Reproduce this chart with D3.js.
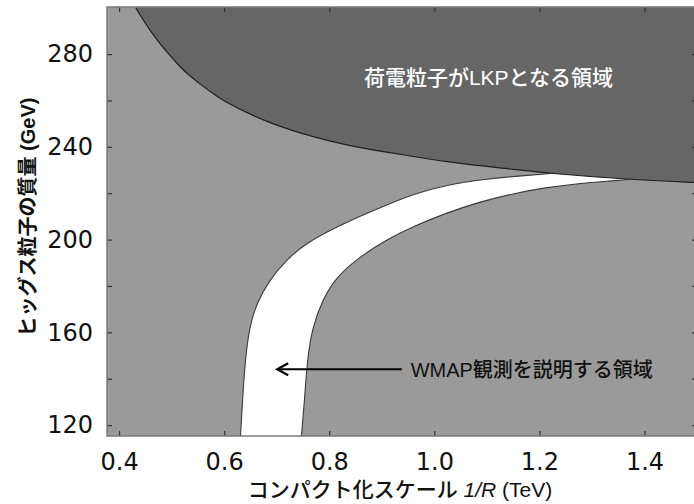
<!DOCTYPE html>
<html>
<head>
<meta charset="utf-8">
<script src="https://cdn.jsdelivr.net/npm/d3@7"></script>
<style>
	body { margin: 0; background: #fff; }
	svg { display: block; }
	text { font-family: "Liberation Sans", "Noto Sans CJK JP", sans-serif; }
</style>
</head>
<body>
<div id="chart"></div>
<script>
/***********************************************************************/
//Data  (1/R in TeV, Higgs mass in GeV)
/***********************************************************************/
const darkBoundaryR = [0.432, 0.459, 0.491, 0.521, 0.554, 0.586, 0.616, 0.681, 0.743, 0.806, 0.870, 0.933, 1.022, 1.147, 1.221, 1.369, 1.50]
const darkBoundaryM = [299.8, 289.9, 280.8, 273.1, 267.0, 261.8, 257.6, 250.7, 246.0, 242.1, 239.1, 236.9, 233.4, 230.4, 228.5, 225.9, 224.6]

const wmapLeftR = [0.631, 0.635, 0.640, 0.648, 0.662, 0.686, 0.718, 0.756, 0.813, 0.876, 0.963, 1.022, 1.098, 1.160, 1.221]
const wmapLeftM = [115.0, 130.8, 148.0, 162.3, 172.6, 182.5, 191.2, 198.5, 205.4, 211.8, 220.0, 223.5, 226.1, 227.4, 228.5]

const wmapRightR = [0.747, 0.753, 0.758, 0.768, 0.787, 0.813, 0.857, 0.908, 0.961, 1.022, 1.088, 1.153, 1.211, 1.274, 1.337, 1.369]
const wmapRightM = [115.0, 130.8, 148.0, 162.3, 173.9, 183.8, 192.4, 199.8, 205.8, 211.4, 216.4, 220.0, 222.4, 224.2, 225.3, 225.9]

const xTickValues = [0.4, 0.6, 0.8, 1.0, 1.2, 1.4]
const yTickValues = [120, 140, 160, 180, 200, 220, 240, 260, 280]
const yLabelValues = [120, 160, 200, 240, 280]

const lkpLabel = '荷電粒子がLKPとなる領域'
const wmapLabel = 'WMAP観測を説明する領域'

/***********************************************************************/
//Plot Area
/***********************************************************************/
const width = 694
const height = 504
const margin = { left : 107, top : 7, right : -3, bottom : 68 }
const plotW = width - margin.left - margin.right
const plotH = height - margin.top - margin.bottom

const svg = d3.select('#chart').append('svg')
	.attr('width', width)
	.attr('height', height)

svg.append('defs').append('clipPath')
	.attr('id', 'plot-clip')
	.append('rect')
	.attr('width', plotW)
	.attr('height', plotH)

const g = svg.append('g')
	.attr('transform', 'translate(' + margin.left + ',' + margin.top + ')')

/***********************************************************************/
//Scale
/***********************************************************************/
const xScale = d3.scaleLinear().domain([0.377, 1.5]).range([0, plotW])
const yScale = d3.scaleLinear().domain([115.3, 300.3]).range([plotH, 0])

const zip = (xs, ys) => xs.map((x, i) => [x, ys[i]])
const darkPts = zip(darkBoundaryR, darkBoundaryM)
const leftPts = zip(wmapLeftR, wmapLeftM)
const rightPts = zip(wmapRightR, wmapRightM)

const line = d3.line()
	.curve(d3.curveBasis)
	.x(d => xScale(d[0]))
	.y(d => yScale(d[1]))

/***********************************************************************/
//Regions
/***********************************************************************/
const regions = g.append('g').attr('clip-path', 'url(#plot-clip)')

regions.append('rect')
	.attr('width', plotW)
	.attr('height', plotH)
	.attr('fill', '#9a9a9a')

// white band: left edge up, a bit into the dark area, right edge back down
const bandPath = line(leftPts)
	+ 'L' + xScale(1.30) + ',' + yScale(229.8)
	+ 'L' + line(rightPts.slice().reverse()).slice(1) + 'Z'

regions.append('path')
	.attr('d', bandPath)
	.attr('fill', '#ffffff')

regions.selectAll('.band-edge')
	.data([leftPts, rightPts])
	.join('path')
	.attr('class', 'band-edge')
	.attr('d', line)
	.attr('fill', 'none')
	.attr('stroke', '#3a3a3a')
	.attr('stroke-width', 1.1)

const darkPath = line(darkPts)
	+ 'L' + xScale(1.55) + ',' + yScale(224.6)
	+ 'L' + xScale(1.55) + ',' + yScale(310)
	+ 'L' + xScale(0.432) + ',' + yScale(310) + 'Z'

regions.append('path')
	.attr('d', darkPath)
	.attr('fill', '#666666')

regions.append('path')
	.attr('d', line(darkPts))
	.attr('fill', 'none')
	.attr('stroke', '#1e1e1e')
	.attr('stroke-width', 1.2)

/***********************************************************************/
//Axes
/***********************************************************************/
const styleAxis = sel => {
	sel.select('.domain').remove()
	sel.selectAll('.tick line').attr('stroke', '#333').attr('stroke-width', 1.2)
	sel.selectAll('text')
		.attr('fill', '#111')
		.style('font-size', '24px')
		.style('font-family', '"DejaVu Sans", sans-serif')
}

g.append('g')
	.attr('transform', 'translate(0,' + plotH + ')')
	.call(d3.axisBottom(xScale).tickValues(xTickValues).tickFormat(d3.format('.1f'))
		.tickSize(-5).tickSizeOuter(0).tickPadding(17))
	.call(styleAxis)

g.append('g')
	.call(d3.axisTop(xScale).tickValues(xTickValues).tickFormat('')
		.tickSize(-5).tickSizeOuter(0))
	.call(styleAxis)

g.append('g')
	.call(d3.axisLeft(yScale).tickValues(yTickValues)
		.tickFormat(d => yLabelValues.includes(d) ? d : '')
		.tickSize(-5).tickSizeOuter(0).tickPadding(14))
	.call(styleAxis)

g.append('g')
	.attr('transform', 'translate(' + plotW + ',0)')
	.call(d3.axisRight(yScale).tickValues(yTickValues).tickFormat('')
		.tickSize(-5).tickSizeOuter(0))
	.call(styleAxis)

g.append('rect')
	.attr('width', plotW)
	.attr('height', plotH)
	.attr('fill', 'none')
	.attr('stroke', '#7a7a7a')
	.attr('stroke-width', 1.5)

/***********************************************************************/
//Annotations
/***********************************************************************/
g.append('text')
	.attr('x', xScale(1.103))
	.attr('y', yScale(270))
	.attr('dy', '0.36em')
	.attr('text-anchor', 'middle')
	.attr('fill', '#ffffff')
	.style('font-size', '21px')
	.style('font-weight', 500)
	.text(lkpLabel)

g.append('text')
	.attr('x', xScale(0.955))
	.attr('y', yScale(144))
	.attr('dy', '0.36em')
	.attr('fill', '#111')
	.style('font-size', '20px')
	.style('font-weight', 500)
	.text(wmapLabel)

const ax0 = xScale(0.938), ax1 = xScale(0.701), ay = yScale(144.1)
g.append('path')
	.attr('d', 'M' + ax0 + ',' + ay + 'L' + ax1 + ',' + ay)
	.attr('stroke', '#000')
	.attr('stroke-width', 2)

g.append('path')
	.attr('d', 'M' + (ax1 + 11) + ',' + (ay - 6) + 'L' + ax1 + ',' + ay + 'L' + (ax1 + 11) + ',' + (ay + 6))
	.attr('fill', 'none')
	.attr('stroke', '#000')
	.attr('stroke-width', 2.2)

/***********************************************************************/
//Titles
/***********************************************************************/
const xTitle = svg.append('text')
	.attr('x', 400)
	.attr('y', 497)
	.attr('text-anchor', 'middle')
	.attr('fill', '#111')
	.style('font-size', '21px')
	.style('font-weight', 500)

xTitle.append('tspan').text('コンパクト化スケール ')
xTitle.append('tspan').style('font-style', 'italic').text('1/R')
xTitle.append('tspan').text(' (TeV)')

svg.append('text')
	.attr('transform', 'translate(35,' + 217 + ') rotate(-90)')
	.attr('text-anchor', 'middle')
	.attr('fill', '#111')
	.style('font-size', '20px')
	.style('font-weight', 'bold')
	.text('ヒッグス粒子の質量 (GeV)')
</script>
</body>
</html>
